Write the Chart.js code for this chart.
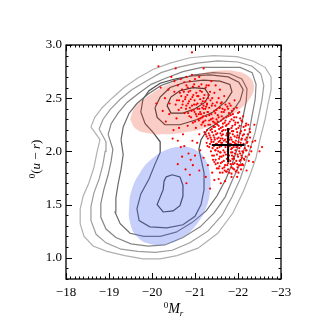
<!DOCTYPE html>
<html lang="en">
<head>
<meta charset="UTF-8">
<title>Colour-magnitude density</title>
<script src="https://cdn.jsdelivr.net/npm/chart.js@4"></script>
<style>
  html, body { margin: 0; padding: 0; background: #fff; }
  #wrap { width: 327px; height: 327px; }
</style>
</head>
<body>
<div id="wrap"><canvas id="cmd" width="327" height="327"></canvas></div>
<script>
// axis ticks
const xTicks = [-18, -19, -20, -21, -22, -23];
const yTicks = [1.0, 1.5, 2.0, 2.5, 3.0];

// density contours, outermost first, as [Mr, u-r]
const contour1 = [[-18.58,2.23],[-18.67,2.32],[-18.84,2.41],[-19.07,2.50],[-19.35,2.60],[-19.67,2.69],[-20.02,2.77],[-20.42,2.83],[-20.88,2.88],[-21.42,2.90],[-21.98,2.89],[-22.35,2.85],[-22.63,2.79],[-22.77,2.70],[-22.77,2.58],[-22.70,2.45],[-22.63,2.30],[-22.51,2.11],[-22.42,1.94],[-22.28,1.78],[-22.12,1.62],[-21.88,1.42],[-21.53,1.23],[-21.07,1.09],[-20.58,1.02],[-20.19,0.99],[-19.79,0.99],[-19.37,1.02],[-18.95,1.06],[-18.63,1.11],[-18.42,1.20],[-18.33,1.32],[-18.33,1.46],[-18.40,1.58],[-18.53,1.70],[-18.65,1.85],[-18.72,1.99],[-18.79,2.11]];
const contour2 = [[-18.77,2.21],[-18.86,2.30],[-19.02,2.39],[-19.26,2.49],[-19.53,2.58],[-19.86,2.66],[-20.21,2.74],[-20.60,2.79],[-21.05,2.83],[-21.53,2.85],[-22.00,2.84],[-22.33,2.80],[-22.53,2.73],[-22.60,2.62],[-22.56,2.49],[-22.49,2.35],[-22.40,2.18],[-22.28,2.02],[-22.16,1.87],[-22.05,1.74],[-21.86,1.57],[-21.63,1.40],[-21.30,1.25],[-20.88,1.14],[-20.47,1.07],[-20.07,1.05],[-19.67,1.06],[-19.28,1.08],[-18.93,1.14],[-18.70,1.22],[-18.58,1.35],[-18.58,1.48],[-18.65,1.61],[-18.77,1.74],[-18.86,1.88],[-18.91,2.00],[-18.93,2.09]];
const contour3 = [[-18.98,2.16],[-19.05,2.26],[-19.21,2.36],[-19.42,2.46],[-19.67,2.54],[-19.98,2.63],[-20.33,2.69],[-20.72,2.75],[-21.16,2.79],[-21.63,2.79],[-22.05,2.79],[-22.33,2.74],[-22.42,2.63],[-22.40,2.49],[-22.33,2.34],[-22.26,2.18],[-22.14,2.02],[-22.05,1.88],[-21.88,1.74],[-21.70,1.57],[-21.44,1.42],[-21.12,1.29],[-20.72,1.19],[-20.30,1.12],[-19.91,1.11],[-19.51,1.13],[-19.16,1.19],[-18.93,1.27],[-18.81,1.38],[-18.81,1.51],[-18.88,1.64],[-18.98,1.78],[-19.05,1.91],[-19.09,2.02]];
const contour4 = [[-19.28,2.11],[-19.33,2.23],[-19.47,2.36],[-19.65,2.45],[-19.91,2.54],[-20.21,2.62],[-20.56,2.67],[-20.98,2.72],[-21.42,2.74],[-21.81,2.73],[-22.09,2.68],[-22.21,2.59],[-22.19,2.47],[-22.12,2.33],[-22.05,2.18],[-21.98,2.02],[-21.86,1.88],[-21.72,1.74],[-21.51,1.58],[-21.26,1.44],[-20.93,1.33],[-20.56,1.24],[-20.19,1.20],[-19.81,1.20],[-19.49,1.23],[-19.26,1.32],[-19.14,1.43],[-19.16,1.56],[-19.21,1.69],[-19.28,1.83],[-19.33,1.97]];
const contour5 = [[-19.74,2.37],[-19.79,2.49],[-19.93,2.57],[-20.19,2.64],[-20.53,2.68],[-20.93,2.71],[-21.35,2.72],[-21.77,2.70],[-22.02,2.65],[-22.12,2.58],[-22.05,2.48],[-21.86,2.37],[-21.58,2.28],[-21.30,2.21],[-21.14,2.11],[-21.09,2.02],[-21.14,1.93],[-21.21,1.80],[-21.21,1.64],[-21.14,1.50],[-21.00,1.39],[-20.72,1.31],[-20.35,1.28],[-19.95,1.29],[-19.70,1.35],[-19.65,1.46],[-19.74,1.60],[-19.93,1.74],[-20.07,1.88],[-20.19,1.99],[-20.19,2.09],[-20.02,2.18],[-19.84,2.26]];
const contour6red = [[-20.07,2.41],[-20.19,2.51],[-20.42,2.60],[-20.77,2.65],[-21.19,2.67],[-21.58,2.66],[-21.81,2.63],[-21.86,2.56],[-21.72,2.47],[-21.42,2.37],[-21.05,2.30],[-20.65,2.25],[-20.30,2.25],[-20.12,2.32]];
const contour6blue = [[-20.33,1.76],[-20.47,1.78],[-20.65,1.76],[-20.72,1.68],[-20.72,1.58],[-20.65,1.49],[-20.49,1.44],[-20.26,1.43],[-20.12,1.50],[-20.19,1.57],[-20.26,1.64],[-20.28,1.72]];
const contour7red = [[-20.35,2.43],[-20.44,2.51],[-20.65,2.57],[-20.95,2.60],[-21.23,2.59],[-21.33,2.53],[-21.23,2.46],[-21.00,2.40],[-20.72,2.36],[-20.44,2.36]];
const contourColors = ['#b0b0b0', '#9c9c9c', '#858585', '#6a6a6a', '#4a4a4a', '#333333', '#1c1c1c'];

// shaded regions: red sequence and blue cloud outlines
const redRegion = [[-19.49,2.30],[-19.60,2.41],[-19.88,2.51],[-20.23,2.60],[-20.65,2.67],[-21.12,2.73],[-21.58,2.76],[-21.98,2.75],[-22.26,2.70],[-22.37,2.62],[-22.30,2.51],[-22.05,2.40],[-21.67,2.30],[-21.23,2.22],[-20.77,2.18],[-20.30,2.16],[-19.91,2.17],[-19.63,2.21]];
const blueRegion = [[-20.77,2.05],[-21.07,2.00],[-21.26,1.91],[-21.35,1.78],[-21.35,1.63],[-21.26,1.47],[-21.05,1.32],[-20.74,1.20],[-20.35,1.13],[-19.95,1.13],[-19.65,1.20],[-19.49,1.33],[-19.47,1.49],[-19.53,1.64],[-19.72,1.80],[-20.00,1.93],[-20.37,2.02]];

// sample galaxies [Mr, u-r]
const sample = [
[-21.52,2.12],[-21.61,2.08],[-21.73,2.15],[-21.84,2.02],[-21.95,2.10],[-22.05,1.98],[-21.47,2.01],[-21.58,1.95],[-21.69,1.99],[-21.80,2.11],
[-21.91,1.93],[-22.12,2.06],[-21.40,2.18],[-21.55,2.24],[-21.66,2.20],[-21.78,2.26],[-21.89,2.19],[-22.01,2.22],[-21.35,2.07],[-21.44,1.96],
[-21.63,1.90],[-21.75,1.87],[-21.86,1.96],[-21.98,1.88],[-22.09,1.94],[-22.18,2.01],[-21.50,2.30],[-21.62,2.33],[-21.71,2.29],[-21.83,2.34],
[-21.94,2.27],[-21.31,2.25],[-21.42,2.28],[-21.27,2.14],[-21.38,2.11],[-21.49,2.16],[-21.57,2.04],[-21.68,2.06],[-21.79,2.07],[-21.90,2.04],
[-22.02,2.13],[-22.14,2.16],[-22.22,2.09],[-21.53,1.89],[-21.64,1.84],[-21.72,1.81],[-21.85,1.85],[-21.97,1.82],[-22.07,1.87],[-21.46,2.23],
[-21.59,2.17],[-21.70,2.11],[-21.81,2.17],[-21.92,2.14],[-22.03,2.03],[-21.33,2.34],[-21.45,2.38],[-21.56,2.41],[-21.67,2.37],[-21.24,2.29],
[-21.36,2.20],[-21.29,2.05],[-21.41,2.03],[-21.51,2.07],[-21.60,2.12],[-21.77,2.02],[-21.88,2.09],[-21.99,2.05],[-22.10,2.00],[-22.26,1.97],
[-21.48,1.92],[-21.59,1.99],[-21.82,1.91],[-21.93,1.98],[-22.04,1.91],[-21.74,1.93],[-21.65,2.26],[-21.76,2.21],[-21.87,2.24],[-21.98,2.18],
[-22.08,2.11],[-21.22,2.18],[-21.30,2.37],[-21.39,2.43],[-21.51,2.46],[-21.19,2.33],[-21.26,2.42],[-21.15,2.25],[-21.43,2.09],[-21.54,2.00],
[-21.66,1.96],[-21.87,1.99],[-22.00,1.95],[-22.15,1.92],[-21.57,1.86],[-21.69,1.82],[-21.80,1.80],[-21.91,1.83],[-21.62,2.15],[-21.83,2.13],
[-21.95,2.07],[-22.06,2.08],[-21.73,2.32],[-21.85,2.30],[-21.96,2.32],[-21.37,2.30],[-21.49,2.26],[-21.60,2.22],[-21.72,2.24],[-21.34,2.15],
[-21.45,2.13],[-21.58,2.10],[-22.20,2.13],[-22.30,2.04],[-22.12,1.87],[-21.77,1.89],[-21.89,1.88],[-21.45,1.90],[-21.55,1.84],[-21.64,1.80],
[-22.01,1.80],[-21.10,2.40],[-21.18,2.47],[-21.05,2.52],[-20.98,2.44],[-20.90,2.49],[-20.85,2.56],[-20.78,2.51],[-20.70,2.58],[-20.95,2.61],
[-21.12,2.57],[-21.22,2.53],[-21.30,2.50],[-21.02,2.35],[-21.08,2.30],[-20.92,2.38],[-20.80,2.43],[-20.72,2.47],[-20.65,2.55],[-20.60,2.62],
[-20.88,2.66],[-21.00,2.68],[-21.15,2.63],[-21.25,2.60],[-21.35,2.56],[-21.40,2.50],[-21.14,2.35],[-21.20,2.40],[-21.28,2.45],[-21.06,2.45],
[-20.96,2.53],[-20.83,2.60],[-20.75,2.65],[-20.68,2.41],[-20.58,2.48],[-20.52,2.56],[-21.32,2.62],[-21.45,2.55],[-21.55,2.50],[-21.62,2.46],
[-21.38,2.66],[-21.10,2.70],[-20.93,2.72],[-20.80,2.70],[-20.67,2.68],[-21.48,2.62],[-21.58,2.58],[-21.68,2.52],[-21.80,2.45],[-21.90,2.40],
[-22.00,2.36],[-22.08,2.29],[-22.18,2.24],[-22.28,2.18],[-21.92,2.48],[-21.75,2.42],[-21.64,2.40],[-20.87,2.33],[-20.95,2.27],[-21.02,2.22],
[-21.10,2.16],[-20.76,2.36],[-20.62,2.39],[-20.55,2.44],[-21.55,1.74],[-21.70,1.72],[-21.85,1.76],[-21.40,1.80],[-21.30,1.87],[-21.20,1.94],
[-21.12,2.01],[-21.05,2.08],[-21.00,1.96],[-20.95,1.87],[-20.88,1.78],[-20.80,1.70],[-21.10,1.82],[-21.25,1.76],[-22.20,1.82],[-22.35,1.90],
[-22.40,2.10],[-22.50,2.00],[-22.38,2.25],[-21.98,1.76],[-21.60,1.70],[-21.45,1.73],[-20.70,1.95],[-20.60,2.10],[-20.50,2.20],[-20.40,2.35],
[-20.30,2.50],[-20.45,2.70],[-20.20,2.60],[-20.10,2.45],[-20.93,2.93],[-20.55,2.78],[-21.20,2.78],[-20.75,2.05],[-20.85,1.98],[-22.56,2.04],
[-21.35,1.65],[-20.15,2.80],
[-21.28,2.44],[-21.41,2.45],[-21.47,2.43],[-21.60,2.45],[-21.71,2.44],[-21.83,2.43],[-21.24,2.40],[-21.33,2.41],[-21.50,2.39],[-21.58,2.41],
[-21.69,2.39],[-21.77,2.40],[-21.86,2.38],[-21.97,2.41],[-21.21,2.36],[-21.29,2.37],[-21.38,2.35],[-21.47,2.36],[-21.53,2.34],[-21.62,2.37],
[-21.79,2.36],[-21.88,2.35],[-22.03,2.37],[-21.17,2.32],[-21.26,2.33],[-21.41,2.31],[-21.55,2.32],[-21.66,2.31],[-21.78,2.33],[-21.91,2.32],
[-22.05,2.31],[-22.12,2.33],[-21.20,2.28],[-21.33,2.29],[-21.45,2.27],[-21.53,2.28],[-21.61,2.29],[-21.69,2.27],[-21.81,2.28],[-21.90,2.29],
[-22.00,2.27],[-22.10,2.28],[-22.19,2.26],[-21.23,2.24],[-21.35,2.25],[-21.43,2.23],[-21.52,2.25],[-21.64,2.23],[-21.74,2.25],[-21.85,2.22],
[-21.93,2.25],[-22.04,2.24],[-22.13,2.23],[-22.24,2.25],[-21.28,2.20],[-21.39,2.21],[-21.47,2.19],[-21.56,2.21],[-21.63,2.19],[-21.71,2.20],
[-21.80,2.21],[-21.86,2.19],[-21.96,2.21],[-22.07,2.19],[-22.16,2.20],[-22.27,2.21],[-21.25,2.16],[-21.32,2.17],[-21.43,2.15],[-21.52,2.17],
[-21.65,2.16],[-21.74,2.17],[-21.78,2.15],[-21.88,2.16],[-21.99,2.15],[-22.05,2.17],[-22.11,2.15],[-22.23,2.16],[-21.30,2.12],[-21.36,2.13],
[-21.46,2.11],[-21.55,2.13],[-21.64,2.12],[-21.67,2.10],[-21.76,2.12],[-21.85,2.11],[-21.97,2.13],[-22.09,2.12],[-22.17,2.11],[-22.28,2.13],
[-21.27,2.08],[-21.38,2.09],[-21.49,2.07],[-21.55,2.09],[-21.63,2.08],[-21.73,2.09],[-21.83,2.07],[-21.92,2.08],[-22.01,2.09],[-22.13,2.07],
[-22.21,2.08],[-22.34,2.09],[-21.33,2.04],[-21.44,2.05],[-21.52,2.03],[-21.61,2.05],[-21.71,2.04],[-21.81,2.05],[-21.86,2.03],[-21.96,2.04],
[-22.07,2.05],[-22.16,2.03],[-22.24,2.05],[-21.37,2.00],[-21.48,2.01],[-21.59,1.99],[-21.66,2.01],[-21.76,2.00],[-21.84,1.99],[-21.94,2.01],
[-22.03,2.00],[-22.12,1.99],[-22.20,2.01],[-22.31,2.00],[-21.40,1.96],[-21.51,1.97],[-21.62,1.95],[-21.72,1.97],[-21.79,1.96],[-21.90,1.95],
[-21.99,1.97],[-22.08,1.96],[-22.18,1.95],[-21.42,1.92],[-21.56,1.93],[-21.67,1.91],[-21.78,1.92],[-21.87,1.93],[-21.96,1.91],[-22.06,1.92],
[-22.14,1.93],[-22.25,1.91],[-21.48,1.88],[-21.60,1.89],[-21.70,1.87],[-21.83,1.88],[-21.92,1.89],[-22.02,1.87],[-22.10,1.88],[-21.51,1.84],
[-21.68,1.85],[-21.77,1.83],[-21.88,1.84],[-21.99,1.85],[-22.07,1.83],[-21.58,1.80],[-21.74,1.81],[-21.85,1.79],[-21.95,1.81],
[-20.74,2.56],[-20.89,2.57],[-21.03,2.55],[-21.16,2.56],[-20.68,2.52],[-20.82,2.53],[-20.94,2.51],[-21.08,2.52],[-21.20,2.50],[-21.31,2.53],
[-20.63,2.48],[-20.77,2.49],[-20.86,2.47],[-20.99,2.48],[-21.12,2.49],[-21.24,2.47],[-21.36,2.48],[-20.71,2.44],[-20.84,2.45],[-20.93,2.43],
[-21.03,2.44],[-21.15,2.45],[-21.20,2.43],[-20.79,2.40],[-20.88,2.41],[-20.97,2.39],[-21.06,2.40],[-21.17,2.41],[-20.84,2.36],[-20.99,2.37],
[-21.09,2.35],[-21.12,2.37],[-20.91,2.32],[-21.04,2.33],[-21.13,2.31],[-21.00,2.28],[-21.09,2.29],[-21.18,2.27],[-20.80,2.62],[-20.98,2.63],
[-21.09,2.61],[-21.27,2.62],
[-20.32,2.28],[-20.41,2.45],[-20.48,2.12],[-20.57,2.31],[-20.63,2.22],[-20.38,2.58],[-20.52,2.66],[-20.25,2.38],[-20.67,2.04],[-20.72,2.16],
[-20.60,1.88],[-20.78,1.83],[-20.90,1.92],[-20.83,2.24],[-20.94,2.10]
];

// mean and spread of the sample
const markerMr = [-21.77];
const markerUR = [2.06];
const markerErrMr = [0.38];
const markerErrUR = [0.16];

const pts = arr => arr.map(p => ({x: p[0], y: p[1]}));
const closed = arr => pts(arr.concat([arr[0]]));

const contours = [contour1, contour2, contour3, contour4, contour5, contour6red, contour6blue, contour7red];
const contourLevel = [0, 1, 2, 3, 4, 5, 5, 6];

const datasets = [];
// cross (on top)
datasets.push({
    data: [{x: markerMr[0] + markerErrMr[0], y: markerUR[0]}, {x: markerMr[0] - markerErrMr[0], y: markerUR[0]}],
    showLine: true, borderColor: '#000', borderWidth: 2, pointRadius: 0, order: 0
});
datasets.push({
    data: [{x: markerMr[0], y: markerUR[0] - markerErrUR[0]}, {x: markerMr[0], y: markerUR[0] + markerErrUR[0]}],
    showLine: true, borderColor: '#000', borderWidth: 2, pointRadius: 0, order: 0
});
datasets.push({
    data: pts(sample), showLine: false, pointRadius: 1.1, pointBorderWidth: 0,
    pointBackgroundColor: '#ff0000', order: 1
});
datasets.push({
    data: closed(redRegion), showLine: true, borderWidth: 0, borderColor: 'rgba(0,0,0,0)',
    backgroundColor: 'rgba(240,100,80,0.32)', fill: 'shape', tension: 0.45, pointRadius: 0, order: 2
});
datasets.push({
    data: closed(blueRegion), showLine: true, borderWidth: 0, borderColor: 'rgba(0,0,0,0)',
    backgroundColor: 'rgba(100,125,240,0.36)', fill: 'shape', tension: 0.45, pointRadius: 0, order: 2
});
contours.forEach((c, i) => {
    datasets.push({
        data: closed(c), showLine: true, borderColor: contourColors[contourLevel[i]],
        borderWidth: 1.2, pointRadius: 0, tension: 0, fill: false, order: 3
    });
});

const serif = '"Liberation Serif", "DejaVu Serif", serif';

// inward ticks on all four sides plus the frame
const frameTicks = {
    id: 'frameTicks',
    afterDatasetsDraw(chart) {
        const {ctx, chartArea: a, scales: {x, y}} = chart;
        ctx.save();
        ctx.strokeStyle = '#000';
        ctx.lineWidth = 1;
        ctx.beginPath();
        for (let i = 0; i <= 50; i++) {
            const px = Math.round(x.getPixelForValue(-18 - i / 10)) + 0.5;
            const len = i % 10 === 0 ? 6 : 2.5;
            ctx.moveTo(px, a.bottom); ctx.lineTo(px, a.bottom - len);
            ctx.moveTo(px, a.top); ctx.lineTo(px, a.top + len);
        }
        for (let i = 0; i <= 22; i++) {
            const py = Math.round(y.getPixelForValue(0.8 + i / 10)) + 0.5;
            const len = (i + 8) % 5 === 0 ? 6 : 2.5;
            ctx.moveTo(a.left, py); ctx.lineTo(a.left + len, py);
            ctx.moveTo(a.right, py); ctx.lineTo(a.right - len, py);
        }
        ctx.stroke();
        ctx.lineWidth = 1.3;
        ctx.strokeRect(a.left, a.top, a.right - a.left, a.bottom - a.top);
        ctx.restore();
    }
};

function drawParts(ctx, parts, cx, base) {
    let w = 0;
    parts.forEach(p => { ctx.font = p[1]; w += ctx.measureText(p[0]).width; });
    let xx = cx - w / 2;
    parts.forEach(p => {
        ctx.font = p[1];
        ctx.fillText(p[0], xx, base + p[2]);
        xx += ctx.measureText(p[0]).width;
    });
}

const axisTitles = {
    id: 'axisTitles',
    afterDraw(chart) {
        const {ctx, chartArea: a} = chart;
        const sm = '9px ' + serif, rg = '13px ' + serif, it = 'italic 13px ' + serif;
        ctx.save();
        ctx.fillStyle = '#000';
        ctx.textBaseline = 'alphabetic';
        drawParts(ctx, [['0', sm, -5], ['M', 'italic 14px ' + serif, 0], ['r', 'italic 9px ' + serif, 3]],
            (a.left + a.right) / 2, 313);
        ctx.translate(40, (a.top + a.bottom) / 2 - 3);
        ctx.rotate(-Math.PI / 2);
        drawParts(ctx, [['0', sm, -5], ['(', rg, 0], ['u', it, 0], [' \u2212 ', rg, 0], ['r', it, 0], [')', rg, 0]], 0, 0);
        ctx.restore();
    }
};

new Chart(document.getElementById('cmd'), {
    type: 'scatter',
    data: {datasets: datasets},
    plugins: [frameTicks, axisTitles],
    options: {
        responsive: false,
        animation: false,
        events: [],
        layout: {padding: {left: 16, right: 46, top: 45, bottom: 8}},
        plugins: {legend: {display: false}, tooltip: {enabled: false}},
        scales: {
            x: {
                type: 'linear', min: -23, max: -18, reverse: true,
                grid: {display: false, drawTicks: false}, border: {display: false},
                afterBuildTicks: s => { s.ticks = xTicks.map(v => ({value: v})); },
                afterFit: s => { s.height = 40; },
                ticks: {
                    padding: 6, color: '#000', font: {family: serif, size: 13},
                    maxRotation: 0, autoSkip: false,
                    callback: v => (v < 0 ? '\u2212' + Math.abs(v) : String(v))
                }
            },
            y: {
                type: 'linear', min: 0.8, max: 3.0,
                grid: {display: false, drawTicks: false}, border: {display: false},
                afterBuildTicks: s => { s.ticks = yTicks.map(v => ({value: v})); },
                afterFit: s => { s.width = 50; },
                ticks: {
                    padding: 4, color: '#000', font: {family: serif, size: 13},
                    autoSkip: false,
                    callback: v => Number(v).toFixed(1)
                }
            }
        }
    }
});
</script>
</body>
</html>
